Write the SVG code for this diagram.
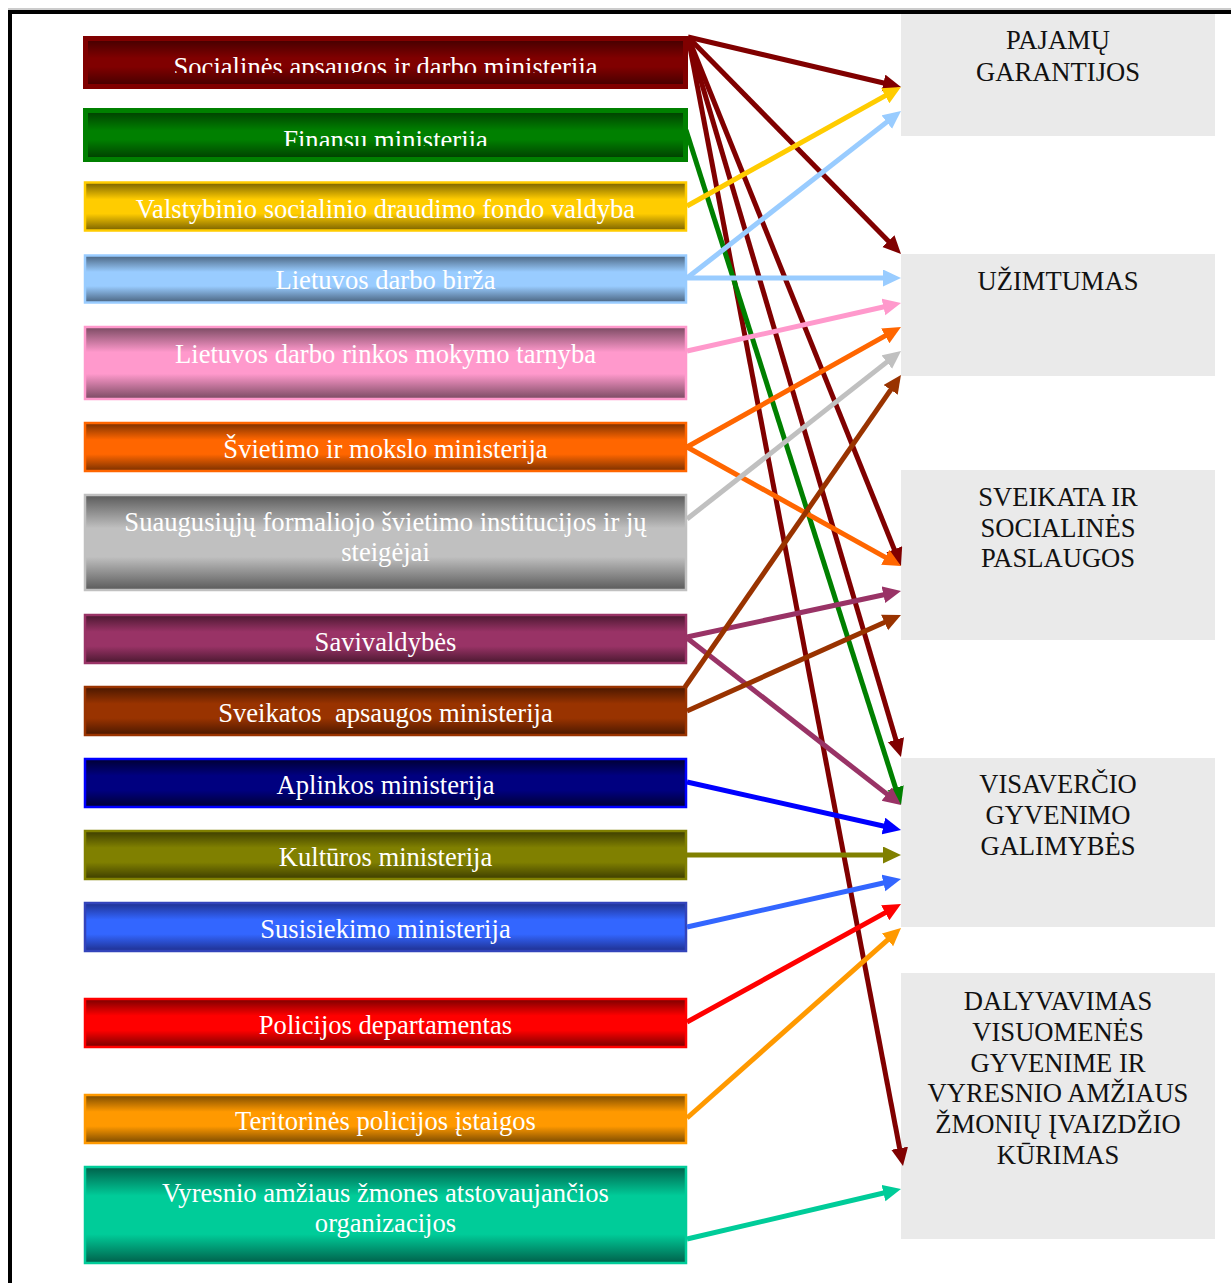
<svg xmlns="http://www.w3.org/2000/svg" width="1231" height="1283" viewBox="0 0 1231 1283">
<style>
.lt{font-family:"Liberation Serif","Times New Roman",serif;font-size:26.6px;fill:#ffffff;text-anchor:middle}
.rt{font-family:"Liberation Serif","Times New Roman",serif;font-size:26.6px;fill:#111111;text-anchor:middle}
.rb{fill:#EAEAEA}
.c{fill:none;stroke-width:5}
</style>
<defs>
<linearGradient id="gRed1" x1="0" y1="0" x2="0" y2="1"><stop offset="0" stop-color="#4a0000"/><stop offset="0.4" stop-color="#800000"/><stop offset="0.6" stop-color="#800000"/><stop offset="1" stop-color="#4a0000"/></linearGradient>
<linearGradient id="gGreen" x1="0" y1="0" x2="0" y2="1"><stop offset="0" stop-color="#004400"/><stop offset="0.4" stop-color="#008000"/><stop offset="0.6" stop-color="#008000"/><stop offset="1" stop-color="#004400"/></linearGradient>
<linearGradient id="gGold" x1="0" y1="0" x2="0" y2="1"><stop offset="0" stop-color="#7a6200"/><stop offset="0.35" stop-color="#FFCC00"/><stop offset="0.65" stop-color="#FFCC00"/><stop offset="1" stop-color="#7a6200"/></linearGradient>
<linearGradient id="gLblue" x1="0" y1="0" x2="0" y2="1"><stop offset="0" stop-color="#4a6480"/><stop offset="0.35" stop-color="#99CCFF"/><stop offset="0.65" stop-color="#99CCFF"/><stop offset="1" stop-color="#4a6480"/></linearGradient>
<linearGradient id="gPink" x1="0" y1="0" x2="0" y2="1"><stop offset="0" stop-color="#7a4a62"/><stop offset="0.35" stop-color="#FF99CC"/><stop offset="0.65" stop-color="#FF99CC"/><stop offset="1" stop-color="#7a4a62"/></linearGradient>
<linearGradient id="gOrange" x1="0" y1="0" x2="0" y2="1"><stop offset="0" stop-color="#7a3000"/><stop offset="0.35" stop-color="#FF6600"/><stop offset="0.65" stop-color="#FF6600"/><stop offset="1" stop-color="#7a3000"/></linearGradient>
<linearGradient id="gGray" x1="0" y1="0" x2="0" y2="1"><stop offset="0" stop-color="#5a5a5a"/><stop offset="0.35" stop-color="#C0C0C0"/><stop offset="0.65" stop-color="#C0C0C0"/><stop offset="1" stop-color="#5a5a5a"/></linearGradient>
<linearGradient id="gPurple" x1="0" y1="0" x2="0" y2="1"><stop offset="0" stop-color="#4a1830"/><stop offset="0.35" stop-color="#993366"/><stop offset="0.65" stop-color="#993366"/><stop offset="1" stop-color="#4a1830"/></linearGradient>
<linearGradient id="gBrown" x1="0" y1="0" x2="0" y2="1"><stop offset="0" stop-color="#4a1800"/><stop offset="0.35" stop-color="#993300"/><stop offset="0.65" stop-color="#993300"/><stop offset="1" stop-color="#4a1800"/></linearGradient>
<linearGradient id="gNavy" x1="0" y1="0" x2="0" y2="1"><stop offset="0" stop-color="#000033"/><stop offset="0.35" stop-color="#000080"/><stop offset="0.65" stop-color="#000080"/><stop offset="1" stop-color="#000033"/></linearGradient>
<linearGradient id="gOlive" x1="0" y1="0" x2="0" y2="1"><stop offset="0" stop-color="#3d3d00"/><stop offset="0.35" stop-color="#808000"/><stop offset="0.65" stop-color="#808000"/><stop offset="1" stop-color="#3d3d00"/></linearGradient>
<linearGradient id="gBlue" x1="0" y1="0" x2="0" y2="1"><stop offset="0" stop-color="#1f3090"/><stop offset="0.35" stop-color="#3366FF"/><stop offset="0.65" stop-color="#3366FF"/><stop offset="1" stop-color="#1f3090"/></linearGradient>
<linearGradient id="gRed" x1="0" y1="0" x2="0" y2="1"><stop offset="0" stop-color="#7a0000"/><stop offset="0.35" stop-color="#FF0000"/><stop offset="0.65" stop-color="#FF0000"/><stop offset="1" stop-color="#7a0000"/></linearGradient>
<linearGradient id="gOrange2" x1="0" y1="0" x2="0" y2="1"><stop offset="0" stop-color="#7a4a00"/><stop offset="0.35" stop-color="#FF9900"/><stop offset="0.65" stop-color="#FF9900"/><stop offset="1" stop-color="#7a4a00"/></linearGradient>
<linearGradient id="gTeal" x1="0" y1="0" x2="0" y2="1"><stop offset="0" stop-color="#00604a"/><stop offset="0.3" stop-color="#00CC99"/><stop offset="0.7" stop-color="#00CC99"/><stop offset="1" stop-color="#00604a"/></linearGradient>
<clipPath id="clip1"><rect x="88" y="41" width="595" height="32"/></clipPath>
<clipPath id="clip2"><rect x="88" y="113" width="595" height="33"/></clipPath>
<marker id="m800000" markerUnits="userSpaceOnUse" markerWidth="20" markerHeight="18" refX="10" refY="8.5" orient="auto"><path d="M0,0 L18,8.5 L0,17 z" fill="#800000"/></marker>
<marker id="m008000" markerUnits="userSpaceOnUse" markerWidth="20" markerHeight="18" refX="10" refY="8.5" orient="auto"><path d="M0,0 L18,8.5 L0,17 z" fill="#008000"/></marker>
<marker id="mFFCC00" markerUnits="userSpaceOnUse" markerWidth="20" markerHeight="18" refX="10" refY="8.5" orient="auto"><path d="M0,0 L18,8.5 L0,17 z" fill="#FFCC00"/></marker>
<marker id="m99CCFF" markerUnits="userSpaceOnUse" markerWidth="20" markerHeight="18" refX="10" refY="8.5" orient="auto"><path d="M0,0 L18,8.5 L0,17 z" fill="#99CCFF"/></marker>
<marker id="mFF99CC" markerUnits="userSpaceOnUse" markerWidth="20" markerHeight="18" refX="10" refY="8.5" orient="auto"><path d="M0,0 L18,8.5 L0,17 z" fill="#FF99CC"/></marker>
<marker id="mFF6600" markerUnits="userSpaceOnUse" markerWidth="20" markerHeight="18" refX="10" refY="8.5" orient="auto"><path d="M0,0 L18,8.5 L0,17 z" fill="#FF6600"/></marker>
<marker id="mC0C0C0" markerUnits="userSpaceOnUse" markerWidth="20" markerHeight="18" refX="10" refY="8.5" orient="auto"><path d="M0,0 L18,8.5 L0,17 z" fill="#C0C0C0"/></marker>
<marker id="m993366" markerUnits="userSpaceOnUse" markerWidth="20" markerHeight="18" refX="10" refY="8.5" orient="auto"><path d="M0,0 L18,8.5 L0,17 z" fill="#993366"/></marker>
<marker id="m993300" markerUnits="userSpaceOnUse" markerWidth="20" markerHeight="18" refX="10" refY="8.5" orient="auto"><path d="M0,0 L18,8.5 L0,17 z" fill="#993300"/></marker>
<marker id="m0000FF" markerUnits="userSpaceOnUse" markerWidth="20" markerHeight="18" refX="10" refY="8.5" orient="auto"><path d="M0,0 L18,8.5 L0,17 z" fill="#0000FF"/></marker>
<marker id="m808000" markerUnits="userSpaceOnUse" markerWidth="20" markerHeight="18" refX="10" refY="8.5" orient="auto"><path d="M0,0 L18,8.5 L0,17 z" fill="#808000"/></marker>
<marker id="m3366FF" markerUnits="userSpaceOnUse" markerWidth="20" markerHeight="18" refX="10" refY="8.5" orient="auto"><path d="M0,0 L18,8.5 L0,17 z" fill="#3366FF"/></marker>
<marker id="mFF0000" markerUnits="userSpaceOnUse" markerWidth="20" markerHeight="18" refX="10" refY="8.5" orient="auto"><path d="M0,0 L18,8.5 L0,17 z" fill="#FF0000"/></marker>
<marker id="mFF9900" markerUnits="userSpaceOnUse" markerWidth="20" markerHeight="18" refX="10" refY="8.5" orient="auto"><path d="M0,0 L18,8.5 L0,17 z" fill="#FF9900"/></marker>
<marker id="m00CC99" markerUnits="userSpaceOnUse" markerWidth="20" markerHeight="18" refX="10" refY="8.5" orient="auto"><path d="M0,0 L18,8.5 L0,17 z" fill="#00CC99"/></marker>
</defs>
<rect x="0" y="0" width="1231" height="1283" fill="#ffffff"/>
<g id="frame">
<line x1="8" y1="9" x2="1231" y2="9" stroke="#999999" stroke-width="1"/>
<path d="M10,1283 V12 H1231" fill="none" stroke="#000000" stroke-width="4"/>
</g>
<g id="n-socialines">
<rect x="83" y="36" width="605" height="53" fill="#800000"/>
<rect x="88" y="41" width="595" height="43" fill="url(#gRed1)"/>
<text class="lt" x="385.5" y="75.5" clip-path="url(#clip1)">Socialinės apsaugos ir darbo ministerija</text>
</g>
<g id="n-finansu">
<rect x="83" y="108" width="605" height="54" fill="#008000"/>
<rect x="88" y="113" width="595" height="44" fill="url(#gGreen)"/>
<text class="lt" x="385.5" y="148.5" clip-path="url(#clip2)">Finansų ministerija</text>
</g>
<g id="n-vsdfv">
<rect x="85" y="182.5" width="601" height="48" fill="url(#gGold)" stroke="#FFCC00" stroke-width="2.5"/>
<text class="lt" x="385.5" y="217.5">Valstybinio socialinio draudimo fondo valdyba</text>
</g>
<g id="n-ldb">
<rect x="85" y="255.5" width="601" height="47" fill="url(#gLblue)" stroke="#99CCFF" stroke-width="2.5"/>
<text class="lt" x="385.5" y="289">Lietuvos darbo birža</text>
</g>
<g id="n-ldrmt">
<rect x="85" y="327" width="601" height="72" fill="url(#gPink)" stroke="#FF99CC" stroke-width="2.5"/>
<text class="lt" x="385.5" y="362.5">Lietuvos darbo rinkos mokymo tarnyba</text>
</g>
<g id="n-smm">
<rect x="85" y="423" width="601" height="48" fill="url(#gOrange)" stroke="#FF6600" stroke-width="2.5"/>
<text class="lt" x="385.5" y="458">Švietimo ir mokslo ministerija</text>
</g>
<g id="n-suaugusiuju">
<rect x="85" y="495" width="601" height="95" fill="url(#gGray)" stroke="#C0C0C0" stroke-width="2.5"/>
<text class="lt" x="385.5" y="530.5">Suaugusiųjų formaliojo švietimo institucijos ir jų</text>
<text class="lt" x="385.5" y="561.2">steigėjai</text>
</g>
<g id="n-savivaldybes">
<rect x="85" y="615" width="601" height="48" fill="url(#gPurple)" stroke="#993366" stroke-width="2.5"/>
<text class="lt" x="385.5" y="650.7">Savivaldybės</text>
</g>
<g id="n-sam">
<rect x="85" y="687" width="601" height="48" fill="url(#gBrown)" stroke="#993300" stroke-width="2.5"/>
<text class="lt" x="385.5" y="722.4" xml:space="preserve">Sveikatos  apsaugos ministerija</text>
</g>
<g id="n-aplinkos">
<rect x="85" y="759" width="601" height="48" fill="url(#gNavy)" stroke="#0000FF" stroke-width="2.5"/>
<text class="lt" x="385.5" y="794">Aplinkos ministerija</text>
</g>
<g id="n-kulturos">
<rect x="85" y="831" width="601" height="48" fill="url(#gOlive)" stroke="#808000" stroke-width="2.5"/>
<text class="lt" x="385.5" y="866.4">Kultūros ministerija</text>
</g>
<g id="n-susisiekimo">
<rect x="85" y="903" width="601" height="48" fill="url(#gBlue)" stroke="#3344BB" stroke-width="2.5"/>
<text class="lt" x="385.5" y="938">Susisiekimo ministerija</text>
</g>
<g id="n-policijos">
<rect x="85" y="999" width="601" height="48" fill="url(#gRed)" stroke="#FF0000" stroke-width="2.5"/>
<text class="lt" x="385.5" y="1034">Policijos departamentas</text>
</g>
<g id="n-teritorines">
<rect x="85" y="1095" width="601" height="48" fill="url(#gOrange2)" stroke="#FF9900" stroke-width="2.5"/>
<text class="lt" x="385.5" y="1130">Teritorinės policijos įstaigos</text>
</g>
<g id="n-vyresnio">
<rect x="85" y="1167" width="601" height="96" fill="url(#gTeal)" stroke="#00CC99" stroke-width="2.5"/>
<text class="lt" x="385.5" y="1202.4">Vyresnio amžiaus žmones atstovaujančios</text>
<text class="lt" x="385.5" y="1232.4">organizacijos</text>
</g>
<g id="n-pajamu">
<rect class="rb" x="901" y="14" width="314" height="122"/>
<text class="rt" x="1058" y="49.3">PAJAMŲ</text>
<text class="rt" x="1058" y="81">GARANTIJOS</text>
</g>
<g id="n-uzimtumas">
<rect class="rb" x="901" y="254" width="314" height="122"/>
<text class="rt" x="1058" y="290">UŽIMTUMAS</text>
</g>
<g id="n-sveikata">
<rect class="rb" x="901" y="470" width="314" height="170"/>
<text class="rt" x="1058" y="505.7">SVEIKATA IR</text>
<text class="rt" x="1058" y="536.5">SOCIALINĖS</text>
<text class="rt" x="1058" y="567.3">PASLAUGOS</text>
</g>
<g id="n-visavercio">
<rect class="rb" x="901" y="758" width="314" height="169"/>
<text class="rt" x="1058" y="793.3">VISAVERČIO</text>
<text class="rt" x="1058" y="824.1">GYVENIMO</text>
<text class="rt" x="1058" y="854.9">GALIMYBĖS</text>
</g>
<g id="n-dalyvavimas">
<rect class="rb" x="901" y="973" width="314" height="266"/>
<text class="rt" x="1058" y="1010">DALYVAVIMAS</text>
<text class="rt" x="1058" y="1040.8">VISUOMENĖS</text>
<text class="rt" x="1058" y="1071.6">GYVENIME IR</text>
<text class="rt" x="1058" y="1102.4">VYRESNIO AMŽIAUS</text>
<text class="rt" x="1058" y="1133.2">ŽMONIŲ ĮVAIZDŽIO</text>
<text class="rt" x="1058" y="1164">KŪRIMAS</text>
</g>
<g id="connectors">
<line class="c" x1="688" y1="37" x2="893.2" y2="85.2" stroke="#800000" marker-end="url(#m800000)"/>
<line class="c" x1="688" y1="37" x2="895.4" y2="248.3" stroke="#800000" marker-end="url(#m800000)"/>
<line class="c" x1="688" y1="37" x2="898.0" y2="558.6" stroke="#800000" marker-end="url(#m800000)"/>
<line class="c" x1="688" y1="37" x2="898.7" y2="749.3" stroke="#800000" marker-end="url(#m800000)"/>
<line class="c" x1="688" y1="37" x2="901.5" y2="1158.1" stroke="#800000" marker-end="url(#m800000)"/>
<line class="c" x1="686" y1="130" x2="898.6" y2="797.4" stroke="#008000" marker-end="url(#m008000)"/>
<line class="c" x1="687" y1="206" x2="894.0" y2="90.9" stroke="#FFCC00" marker-end="url(#mFFCC00)"/>
<line class="c" x1="687" y1="278" x2="894.7" y2="115.9" stroke="#99CCFF" marker-end="url(#m99CCFF)"/>
<line class="c" x1="687" y1="278" x2="893" y2="278" stroke="#99CCFF" marker-end="url(#m99CCFF)"/>
<line class="c" x1="687" y1="351" x2="893.2" y2="304.8" stroke="#FF99CC" marker-end="url(#mFF99CC)"/>
<line class="c" x1="687" y1="447" x2="894.0" y2="330.9" stroke="#FF6600" marker-end="url(#mFF6600)"/>
<line class="c" x1="687" y1="447" x2="894.0" y2="562.1" stroke="#FF6600" marker-end="url(#mFF6600)"/>
<line class="c" x1="687" y1="519" x2="894.7" y2="355.9" stroke="#C0C0C0" marker-end="url(#mC0C0C0)"/>
<line class="c" x1="687" y1="637" x2="893.2" y2="592.7" stroke="#993366" marker-end="url(#m993366)"/>
<line class="c" x1="687" y1="638" x2="894.7" y2="800.1" stroke="#993366" marker-end="url(#m993366)"/>
<line class="c" x1="685" y1="687" x2="896.4" y2="381.6" stroke="#993300" marker-end="url(#m993300)"/>
<line class="c" x1="687" y1="711" x2="893.7" y2="618.3" stroke="#993300" marker-end="url(#m993300)"/>
<line class="c" x1="687" y1="782" x2="893.2" y2="828.2" stroke="#0000FF" marker-end="url(#m0000FF)"/>
<line class="c" x1="687" y1="855" x2="893" y2="855" stroke="#808000" marker-end="url(#m808000)"/>
<line class="c" x1="687" y1="927" x2="893.2" y2="880.8" stroke="#3366FF" marker-end="url(#m3366FF)"/>
<line class="c" x1="687" y1="1022" x2="894.0" y2="907.9" stroke="#FF0000" marker-end="url(#mFF0000)"/>
<line class="c" x1="687" y1="1118" x2="895.0" y2="933.3" stroke="#FF9900" marker-end="url(#mFF9900)"/>
<line class="c" x1="687" y1="1239" x2="893.2" y2="1190.8" stroke="#00CC99" marker-end="url(#m00CC99)"/>
</g>
</svg>
